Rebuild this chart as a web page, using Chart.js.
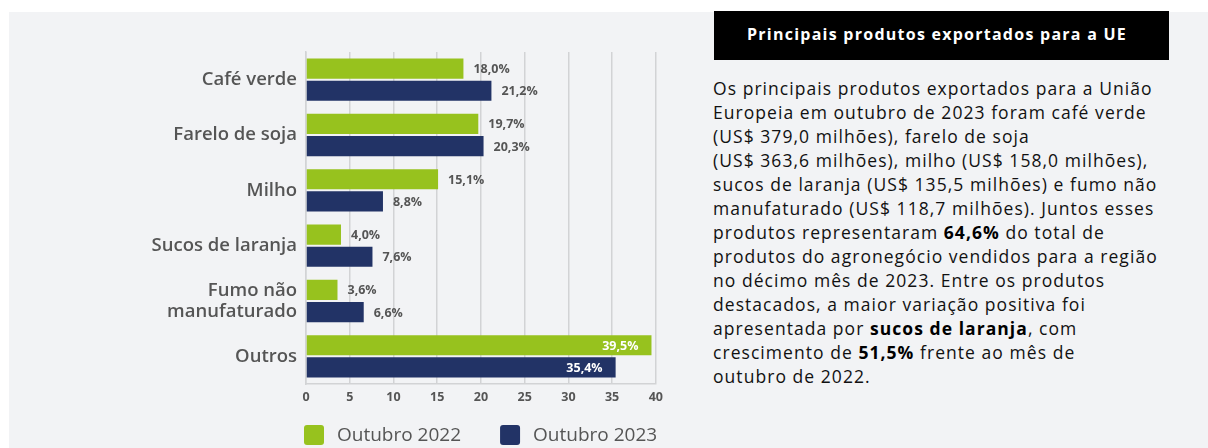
<!DOCTYPE html>
<html>
<head>
<meta charset="utf-8">
<script src="https://cdn.jsdelivr.net/npm/chart.js@4.4.0/dist/chart.umd.min.js"></script>
<style>
  html, body { margin: 0; padding: 0; width: 1208px; height: 448px; overflow: hidden; background: #ffffff; }
  #bg { position: absolute; left: 9px; top: 12px; width: 1199px; height: 436px; background: #f2f3f5; }
  #chartWrap { position: absolute; left: 100px; top: 12px; width: 569px; height: 436px; }
  #titleBox { position: absolute; left: 714px; top: 11px; width: 446px; padding-right: 9px; height: 49px; background: #000;
    color: #fff; font: 700 16px "Open Sans", sans-serif; letter-spacing: 1.25px; text-align: center; line-height: 46px; }
  #para { position: absolute; left: 713px; top: 76px; width: 490px; font: 400 17.5px "Open Sans", sans-serif;
    letter-spacing: 1.05px; line-height: 24px; color: #111111; white-space: nowrap; }
  #para b { font-weight: 700; color: #000; }
</style>
</head>
<body>
<div id="bg"></div>
<div id="chartWrap"><canvas id="c"></canvas></div>
<div id="titleBox">Principais produtos exportados para a UE</div>
<div id="para">Os principais produtos exportados para a União<br>Europeia em outubro de 2023 foram café verde<br>(US$ 379,0 milhões), farelo de soja<br>(US$ 363,6 milhões), milho (US$ 158,0 milhões),<br>sucos de laranja (US$ 135,5 milhões) e fumo não<br>manufaturado (US$ 118,7 milhões). Juntos esses<br>produtos representaram <b>64,6%</b> do total de<br>produtos do agronegócio vendidos para a região<br>no décimo mês de 2023. Entre os produtos<br>destacados, a maior variação positiva foi<br>apresentada por <b>sucos de laranja</b>, com<br>crescimento de <b>51,5%</b> frente ao mês de<br>outubro de 2022.</div>
<script>
const categories = ['Café verde', 'Farelo de soja', 'Milho', 'Sucos de laranja', ['Fumo não', 'manufaturado'], 'Outros'];
const seriesNames = ['Outubro 2022', 'Outubro 2023'];
const values2022 = [18.0, 19.7, 15.1, 4.0, 3.6, 39.5];
const values2023 = [21.2, 20.3, 8.8, 7.6, 6.6, 35.4];
const xMin = 0, xMax = 40, xStep = 5;

const FONT = '"Open Sans", sans-serif';
const GREEN = '#97c21e';
const NAVY = '#223366';
const GRID = '#d2d3d5';

function fmt(v) { return v.toFixed(1).replace('.', ',') + '%'; }

const valueLabels = {
  id: 'valueLabels',
  afterDatasetsDraw(chart) {
    const ctx = chart.ctx;
    ctx.save();
    ctx.font = '700 12.5px ' + FONT;
    ctx.textBaseline = 'middle';
    chart.data.datasets.forEach((ds, di) => {
      chart.getDatasetMeta(di).data.forEach((bar, i) => {
        const v = ds.data[i];
        const t = fmt(v);
        if (v > 30) {
          ctx.fillStyle = '#ffffff';
          ctx.textAlign = 'right';
          ctx.fillText(t, bar.x - 13, bar.y + 1);
        } else {
          ctx.fillStyle = '#555555';
          ctx.textAlign = 'left';
          ctx.fillText(t, bar.x + 10, bar.y + 1);
        }
      });
    });
    ctx.restore();
  }
};

const customLegend = {
  id: 'customLegend',
  afterDraw(chart) {
    const ctx = chart.ctx;
    const a = chart.chartArea;
    let x = a.left - 2;
    const y = a.bottom + 51;
    ctx.save();
    ctx.font = '400 19px ' + FONT;
    ctx.textBaseline = 'middle';
    ctx.textAlign = 'left';
    chart.data.datasets.forEach(ds => {
      ctx.fillStyle = ds.backgroundColor;
      ctx.beginPath();
      ctx.roundRect(x, y - 10, 20, 20, 3);
      ctx.fill();
      ctx.fillStyle = '#555555';
      ctx.fillText(ds.label, x + 33, y + 1);
      x += 33 + ctx.measureText(ds.label).width + 39;
    });
    ctx.restore();
  }
};

new Chart(document.getElementById('c'), {
  type: 'bar',
  data: {
    labels: categories,
    datasets: [
      { label: seriesNames[0], data: values2022, backgroundColor: GREEN, barPercentage: 0.91, categoryPercentage: 0.8 },
      { label: seriesNames[1], data: values2023, backgroundColor: NAVY, barPercentage: 0.91, categoryPercentage: 0.8 }
    ]
  },
  options: {
    indexAxis: 'y',
    responsive: true,
    maintainAspectRatio: false,
    animation: false,
    layout: { padding: { top: 40, right: 6, bottom: 37, left: 0 } },
    plugins: { legend: { display: false }, tooltip: { enabled: false } },
    scales: {
      x: {
        min: xMin, max: xMax,
        ticks: { stepSize: xStep, color: '#555555', font: { family: FONT, size: 12.5, weight: '700' }, padding: 6 },
        grid: { color: GRID, lineWidth: 1.5, drawTicks: false },
        border: { color: GRID, width: 1.5 }
      },
      y: {
        grid: { display: false, drawTicks: false },
        border: { color: GRID, width: 1.5 },
        ticks: { color: '#555555', font: { family: FONT, size: 18.5, weight: '600', lineHeight: 1.12 }, padding: 9 },
        afterFit(scale) { scale.width = 206; }
      }
    }
  },
  plugins: [valueLabels, customLegend]
});
</script>
</body>
</html>
